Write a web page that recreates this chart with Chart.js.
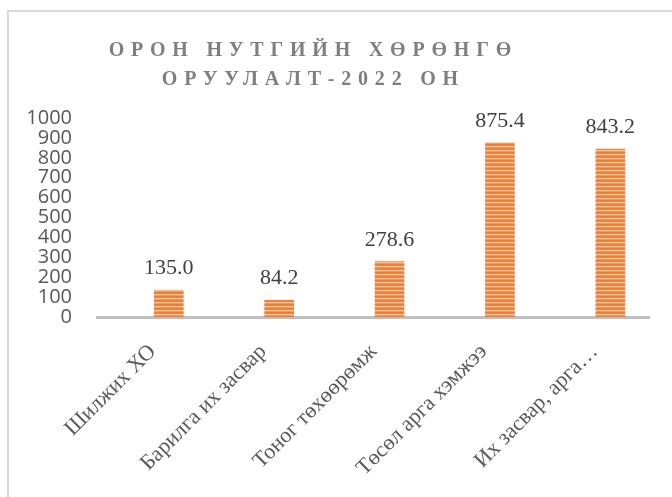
<!DOCTYPE html>
<html>
<head>
<meta charset="utf-8">
<script src="https://cdn.jsdelivr.net/npm/chart.js@4/dist/chart.umd.min.js"></script>
<style>
  html, body { margin: 0; padding: 0; background: #ffffff; }
  #wrap { position: relative; width: 672px; height: 497px; overflow: hidden; }
  #frame { position: absolute; left: 7px; top: 10px; width: 700px; height: 600px; border: 2px solid #D9D9D9; box-sizing: border-box; }
  #c { position: absolute; left: 0; top: 0; }
</style>
</head>
<body>
<div id="wrap">
  <div id="frame"></div>
  <canvas id="c" width="672" height="497"></canvas>
</div>
<script>
const titleLines = ["ОРОН НУТГИЙН ХӨРӨНГӨ", "ОРУУЛАЛТ-2022 ОН"];
const categories = ["Шилжих ХО", "Барилга их засвар", "Тоног төхөөрөмж", "Төсөл арга хэмжээ", "Их засвар, арга…"];
const values = [135.0, 84.2, 278.6, 875.4, 843.2];
const yTicks = [0, 100, 200, 300, 400, 500, 600, 700, 800, 900, 1000];

const ctx0 = document.getElementById('c').getContext('2d');
const stripe = ctx0.createPattern((() => {
  const p = document.createElement('canvas');
  p.width = 8; p.height = 4;
  const g = p.getContext('2d');
  ['#ED7D31', '#EE8442', '#F8C4A0', '#F0995C'].forEach((col, i) => { g.fillStyle = col; g.fillRect(0, i, 8, 1); });
  return p;
})(), 'repeat');

const titlePlugin = {
  id: 'spacedTitle',
  afterDraw(chart) {
    const ctx = chart.ctx;
    ctx.save();
    ctx.font = 'bold 20px "Liberation Serif"';
    ctx.fillStyle = '#7F7F7F';
    ctx.textAlign = 'center';
    ctx.textBaseline = 'alphabetic';
    const sp = 6.8;
    ctx.letterSpacing = sp + 'px';
    const cx = 310 + sp / 2;
    titleLines.forEach((t, i) => ctx.fillText(t, cx, 56 + i * 29));
    ctx.restore();
  }
};

const labelPlugin = {
  id: 'valueLabels',
  afterDatasetsDraw(chart) {
    const ctx = chart.ctx;
    const meta = chart.getDatasetMeta(0);
    ctx.save();
    ctx.font = '22px "Liberation Serif"';
    ctx.fillStyle = '#404040';
    ctx.textAlign = 'center';
    ctx.textBaseline = 'alphabetic';
    meta.data.forEach((bar, i) => {
      ctx.fillText(values[i].toFixed(1), bar.x, bar.y - 16);
    });
    ctx.restore();
  }
};

new Chart(document.getElementById('c'), {
  type: 'bar',
  data: {
    datasets: [{
      xAxisID: 'x',
      yAxisID: 'y',
      data: values.map((v, i) => ({ x: i, y: v })),
      backgroundColor: stripe,
      borderWidth: 0,
      barThickness: 29
    }]
  },
  options: {
    responsive: false,
    animation: false,
    devicePixelRatio: 1,
    layout: { padding: { left: 0, right: 23, top: 118, bottom: 0 } },
    plugins: { legend: { display: false }, tooltip: { enabled: false }, title: { display: false } },
    scales: {
      x: {
        type: 'linear',
        display: false,
        offset: false,
        min: -0.65,
        max: 4.35
      },
      x2: {
        type: 'linear',
        position: 'bottom',
        offset: false,
        min: -0.505,
        max: 4.495,
        afterBuildTicks(scale) { scale.ticks = categories.map((c, i) => ({ value: i })); },
        afterFit(scale) { scale.height = 180; },
        grid: { display: false, drawTicks: false, offset: false },
        border: { display: true, color: '#BFBFBF', width: 3 },
        ticks: {
          autoSkip: false,
          minRotation: 45,
          maxRotation: 45,
          padding: 22,
          color: '#595959',
          font: { family: 'Liberation Serif', size: 22 },
          callback: (v) => categories[v]
        }
      },
      y: {
        min: 0,
        max: 1000,
        afterBuildTicks(scale) { scale.ticks = yTicks.map(v => ({ value: v })); },
        afterFit(scale) { scale.width = 97; },
        grid: { display: false, drawTicks: false },
        border: { display: false },
        ticks: {
          autoSkip: false,
          padding: 25,
          color: '#595959',
          font: { family: 'Open Sans', size: 20 },
          callback: (v) => String(v)
        }
      }
    }
  },
  plugins: [titlePlugin, labelPlugin]
});
</script>
</body>
</html>
